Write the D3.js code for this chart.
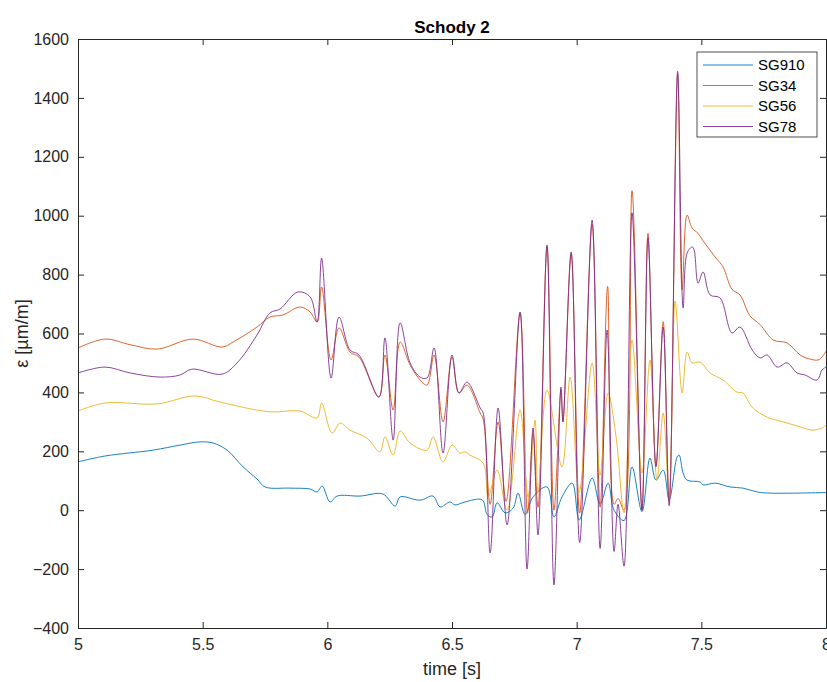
<!DOCTYPE html>
<html>
<head>
<meta charset="utf-8">
<script src="https://cdn.jsdelivr.net/npm/d3@7"></script>
<style>
  html, body { margin: 0; padding: 0; background: #fff; }
  svg { display: block; font-family: "Liberation Sans", Arial, Helvetica, sans-serif; }
</style>
</head>
<body>
<svg id="chart" width="827" height="682"></svg>
<script>
// ---------- data ----------
const seriesNames = ["SG910", "SG34", "SG56", "SG78"];
const xTicks = [5, 5.5, 6, 6.5, 7, 7.5, 8];
const yTicks = [-400, -200, 0, 200, 400, 600, 800, 1000, 1200, 1400, 1600];

const sg910_t = [5.000,5.108,5.301,5.409,5.489,5.542,5.598,5.662,5.718,5.750,5.850,5.931,5.959,5.979,6.011,6.039,6.131,6.223,6.272,6.292,6.372,6.424,6.452,6.492,6.512,6.552,6.621,6.641,6.661,6.681,6.713,6.745,6.765,6.793,6.825,6.881,6.909,6.941,6.982,7.010,7.062,7.094,7.126,7.150,7.190,7.222,7.262,7.294,7.318,7.347,7.371,7.403,7.411,7.427,7.443,7.495,7.507,7.555,7.615,7.667,7.724,7.776,8.000];
const sg910_v = [164,184,204,221,232,228,204,147,106,79,75,72,62,82,28,48,48,55,14,45,34,48,11,28,18,28,35,-15,-23,25,-9,7,58,-15,45,79,-23,45,92,-33,109,20,92,0,-35,147,-5,177,102,136,35,181,187,126,102,96,86,92,79,75,62,58,60];

const sg34_t = [5.000,5.108,5.209,5.317,5.461,5.578,5.622,5.718,5.770,5.822,5.890,5.931,5.959,5.977,6.015,6.047,6.091,6.127,6.207,6.231,6.264,6.292,6.332,6.372,6.400,6.428,6.464,6.500,6.528,6.560,6.613,6.625,6.653,6.685,6.717,6.773,6.803,6.825,6.845,6.881,6.909,6.937,6.945,6.978,7.012,7.062,7.094,7.124,7.150,7.166,7.190,7.222,7.262,7.286,7.318,7.347,7.371,7.405,7.423,7.443,7.463,7.487,7.507,7.555,7.587,7.623,7.655,7.695,7.736,7.788,7.844,7.896,7.928,7.968,7.984,8.000];
const sg34_v = [551,581,562,547,581,554,571,622,656,663,690,673,639,758,510,619,537,520,384,527,340,571,493,442,425,527,300,520,398,425,330,310,20,300,30,670,-10,260,10,895,0,410,300,870,-10,970,10,760,20,40,0,1085,0,940,150,640,30,1480,748,1002,958,940,915,860,826,750,731,660,630,578,568,527,515,510,520,540];

const sg56_t = [5.000,5.108,5.317,5.469,5.570,5.770,5.890,5.959,5.977,6.019,6.051,6.091,6.159,6.211,6.231,6.264,6.292,6.332,6.400,6.424,6.464,6.500,6.532,6.552,6.572,6.625,6.645,6.681,6.721,6.773,6.805,6.833,6.845,6.881,6.941,6.974,7.010,7.062,7.094,7.126,7.158,7.190,7.222,7.262,7.294,7.322,7.347,7.371,7.395,7.423,7.443,7.463,7.495,7.535,7.587,7.643,7.667,7.704,7.764,7.828,7.896,7.944,7.984,8.000];
const sg56_v = [337,364,361,388,367,334,337,313,364,262,296,272,245,198,249,187,269,228,204,249,164,221,194,198,187,160,45,136,0,340,45,306,60,408,147,452,60,500,120,398,249,-9,578,126,510,102,330,35,710,398,537,500,503,466,442,401,398,350,316,300,283,272,279,289];

const sg78_t = [5.000,5.108,5.209,5.329,5.409,5.457,5.578,5.638,5.718,5.770,5.810,5.882,5.931,5.959,5.977,6.015,6.047,6.091,6.127,6.207,6.231,6.264,6.292,6.332,6.372,6.400,6.428,6.464,6.500,6.528,6.560,6.613,6.625,6.653,6.685,6.721,6.773,6.801,6.825,6.845,6.881,6.909,6.937,6.945,6.978,7.012,7.062,7.094,7.122,7.150,7.166,7.190,7.222,7.262,7.286,7.318,7.347,7.371,7.405,7.427,7.443,7.463,7.471,7.487,7.507,7.535,7.575,7.623,7.655,7.704,7.736,7.764,7.804,7.844,7.884,7.916,7.964,7.984,8.000];
const sg78_v = [466,486,466,452,459,479,462,500,595,670,683,741,724,639,856,449,656,544,527,384,585,238,636,500,452,449,551,194,527,398,435,347,330,-145,347,-50,673,-200,279,-84,900,-254,418,300,877,-110,985,-130,612,-140,20,-190,1010,0,924,147,622,15,1490,687,873,894,884,771,809,731,721,602,622,544,517,527,486,500,466,459,442,476,486];

const seriesColors = ["#0072BD", "#D95319", "#EDB120", "#7E2F8E"];

// ---------- layout ----------
const svg = d3.select("#chart");
const L = 78, R = 826, T = 39, B = 628;
const x = d3.scaleLinear().domain([5, 8]).range([L, R]);
const y = d3.scaleLinear().domain([-400, 1600]).range([B, T]);
const axisColor = "#262626";

const series = [
  { name: seriesNames[0], t: sg910_t, v: sg910_v, color: seriesColors[0] },
  { name: seriesNames[1], t: sg34_t,  v: sg34_v,  color: seriesColors[1] },
  { name: seriesNames[2], t: sg56_t,  v: sg56_v,  color: seriesColors[2] },
  { name: seriesNames[3], t: sg78_t,  v: sg78_v,  color: seriesColors[3] }
];

svg.append("defs").append("clipPath").attr("id", "clip")
  .append("rect").attr("x", L).attr("y", T).attr("width", R - L).attr("height", B - T);

// lines
const line = d3.line()
  .x(d => x(d[0]))
  .y(d => y(d[1]))
  .curve(d3.curveCatmullRom.alpha(0.5));

const gLines = svg.append("g").attr("clip-path", "url(#clip)");
series.forEach(s => {
  const pts = s.t.map((t, i) => [t, s.v[i]]);
  gLines.append("path")
    .datum(pts)
    .attr("d", line)
    .attr("fill", "none")
    .attr("stroke", s.color)
    .attr("stroke-width", 0.9)
    .attr("stroke-linejoin", "round");
});

// axes
const fontSize = 16;
const xAxisB = d3.axisBottom(x).tickValues(xTicks).tickSizeInner(-6).tickSizeOuter(0).tickPadding(11).tickFormat(d3.format("~g"));
const xAxisT = d3.axisTop(x).tickValues(xTicks).tickSizeInner(-6).tickSizeOuter(0).tickFormat("");
const yAxisL = d3.axisLeft(y).tickValues(yTicks).tickSizeInner(-6).tickSizeOuter(0).tickPadding(9).tickFormat(d3.format("d"));
const yAxisR = d3.axisRight(y).tickValues(yTicks).tickSizeInner(-6).tickSizeOuter(0).tickFormat("");

function styleAxis(g) {
  g.select(".domain").attr("stroke", axisColor).attr("stroke-width", 1);
  g.selectAll(".tick line").attr("stroke", axisColor).attr("stroke-width", 1);
  g.selectAll(".tick text").attr("fill", axisColor).attr("font-size", fontSize)
    .attr("font-family", "Liberation Sans, Arial, sans-serif");
}

svg.append("g").attr("transform", `translate(0,${B})`).call(xAxisB).call(styleAxis);
svg.append("g").attr("transform", `translate(0,${T})`).call(xAxisT).call(styleAxis);
svg.append("g").attr("transform", `translate(${L},0)`).call(yAxisL).call(styleAxis);
svg.append("g").attr("transform", `translate(${R},0)`).call(yAxisR).call(styleAxis);

// title
svg.append("text")
  .attr("x", (L + R) / 2).attr("y", 33)
  .attr("text-anchor", "middle")
  .attr("font-size", 17).attr("font-weight", "bold")
  .attr("fill", "#000")
  .text("Schody 2");

// axis labels
svg.append("text")
  .attr("x", (L + R) / 2).attr("y", 675)
  .attr("text-anchor", "middle")
  .attr("font-size", 18).attr("fill", axisColor)
  .text("time [s]");

svg.append("text")
  .attr("transform", `translate(28,${(T + B) / 2}) rotate(-90)`)
  .attr("text-anchor", "middle")
  .attr("font-size", 18).attr("fill", axisColor)
  .text("ε [µm/m]");

// legend
const lg = svg.append("g").attr("transform", "translate(697,52)");
lg.append("rect").attr("width", 120).attr("height", 85)
  .attr("fill", "#fff").attr("stroke", axisColor).attr("stroke-width", 0.8);
series.forEach((s, i) => {
  const yy = 13 + i * 20.5;
  lg.append("line").attr("x1", 6).attr("x2", 56).attr("y1", yy).attr("y2", yy)
    .attr("stroke", s.color).attr("stroke-width", 0.9);
  lg.append("text").attr("x", 61).attr("y", yy + 5)
    .attr("font-size", 15).attr("fill", "#000").text(s.name);
});
</script>
</body>
</html>
